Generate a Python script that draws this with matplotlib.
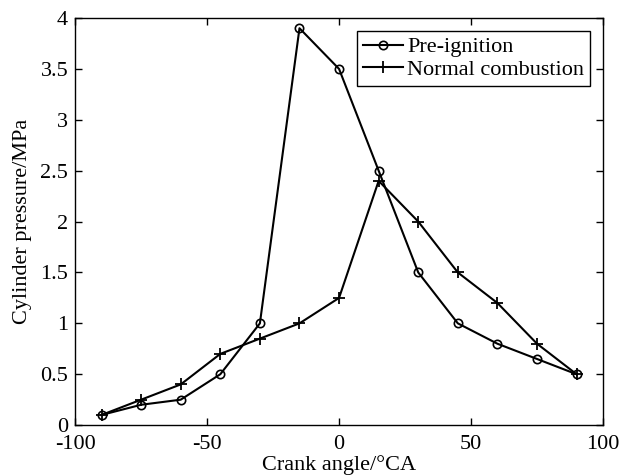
import matplotlib
matplotlib.use('Agg')
import matplotlib.pyplot as plt

# crank angle (deg CA) and cylinder pressure (MPa)
crank_angle = [-90, -75, -60, -45, -30, -15, 0, 15, 30, 45, 60, 75, 90]
pre_ignition = [0.1, 0.2, 0.25, 0.5, 1.0, 3.9, 3.5, 2.5, 1.5, 1.0, 0.8, 0.65, 0.5]
normal_combustion = [0.1, 0.25, 0.4, 0.7, 0.85, 1.0, 1.25, 2.4, 2.0, 1.5, 1.2, 0.8, 0.5]

x_ticks = [-100, -50, 0, 50, 100]
y_ticks = [0, 0.5, 1, 1.5, 2, 2.5, 3, 3.5, 4]
y_labels = ['0', '0.5', '1', '1.5', '2', '2.5', '3', '3.5', '4']

plt.rcParams['font.family'] = ['Liberation Serif', 'DejaVu Serif']
plt.rcParams['font.size'] = 16
plt.rcParams['axes.unicode_minus'] = False

fig = plt.figure(figsize=(6.21, 4.75), dpi=100)
ax = fig.add_axes([0.121, 0.105, 0.850, 0.857])

ax.plot(crank_angle, pre_ignition, color='black', lw=1.5, marker='o',
        markersize=6, markerfacecolor='none', markeredgewidth=1.2, label='Pre-ignition')
ax.plot(crank_angle, normal_combustion, color='black', lw=1.5, marker='+',
        markersize=8, markeredgewidth=1.3, label='Normal combustion')

ax.set_xlim(-100, 100)
ax.set_ylim(0, 4)
ax.set_xticks(x_ticks)
ax.set_yticks(y_ticks)
ax.set_yticklabels(y_labels)
ax.tick_params(direction='in', top=True, right=True, length=5, width=1,
               labelsize=16, pad=5)
ax.tick_params(axis='x', pad=7)
for s in ax.spines.values():
    s.set_linewidth(1)

ax.set_xlabel('Crank angle/°CA', fontsize=16, labelpad=1)
ax.set_ylabel('Cylinder pressure/MPa', fontsize=16, labelpad=6)

leg = ax.legend(loc='upper right', fancybox=False, edgecolor='black', framealpha=1,
                fontsize=16, handlelength=1.8, borderpad=0.25, labelspacing=0.1,
                handletextpad=0.2, borderaxespad=0.6)
leg.get_frame().set_linewidth(1)

fig.savefig('out.png', dpi=100)
